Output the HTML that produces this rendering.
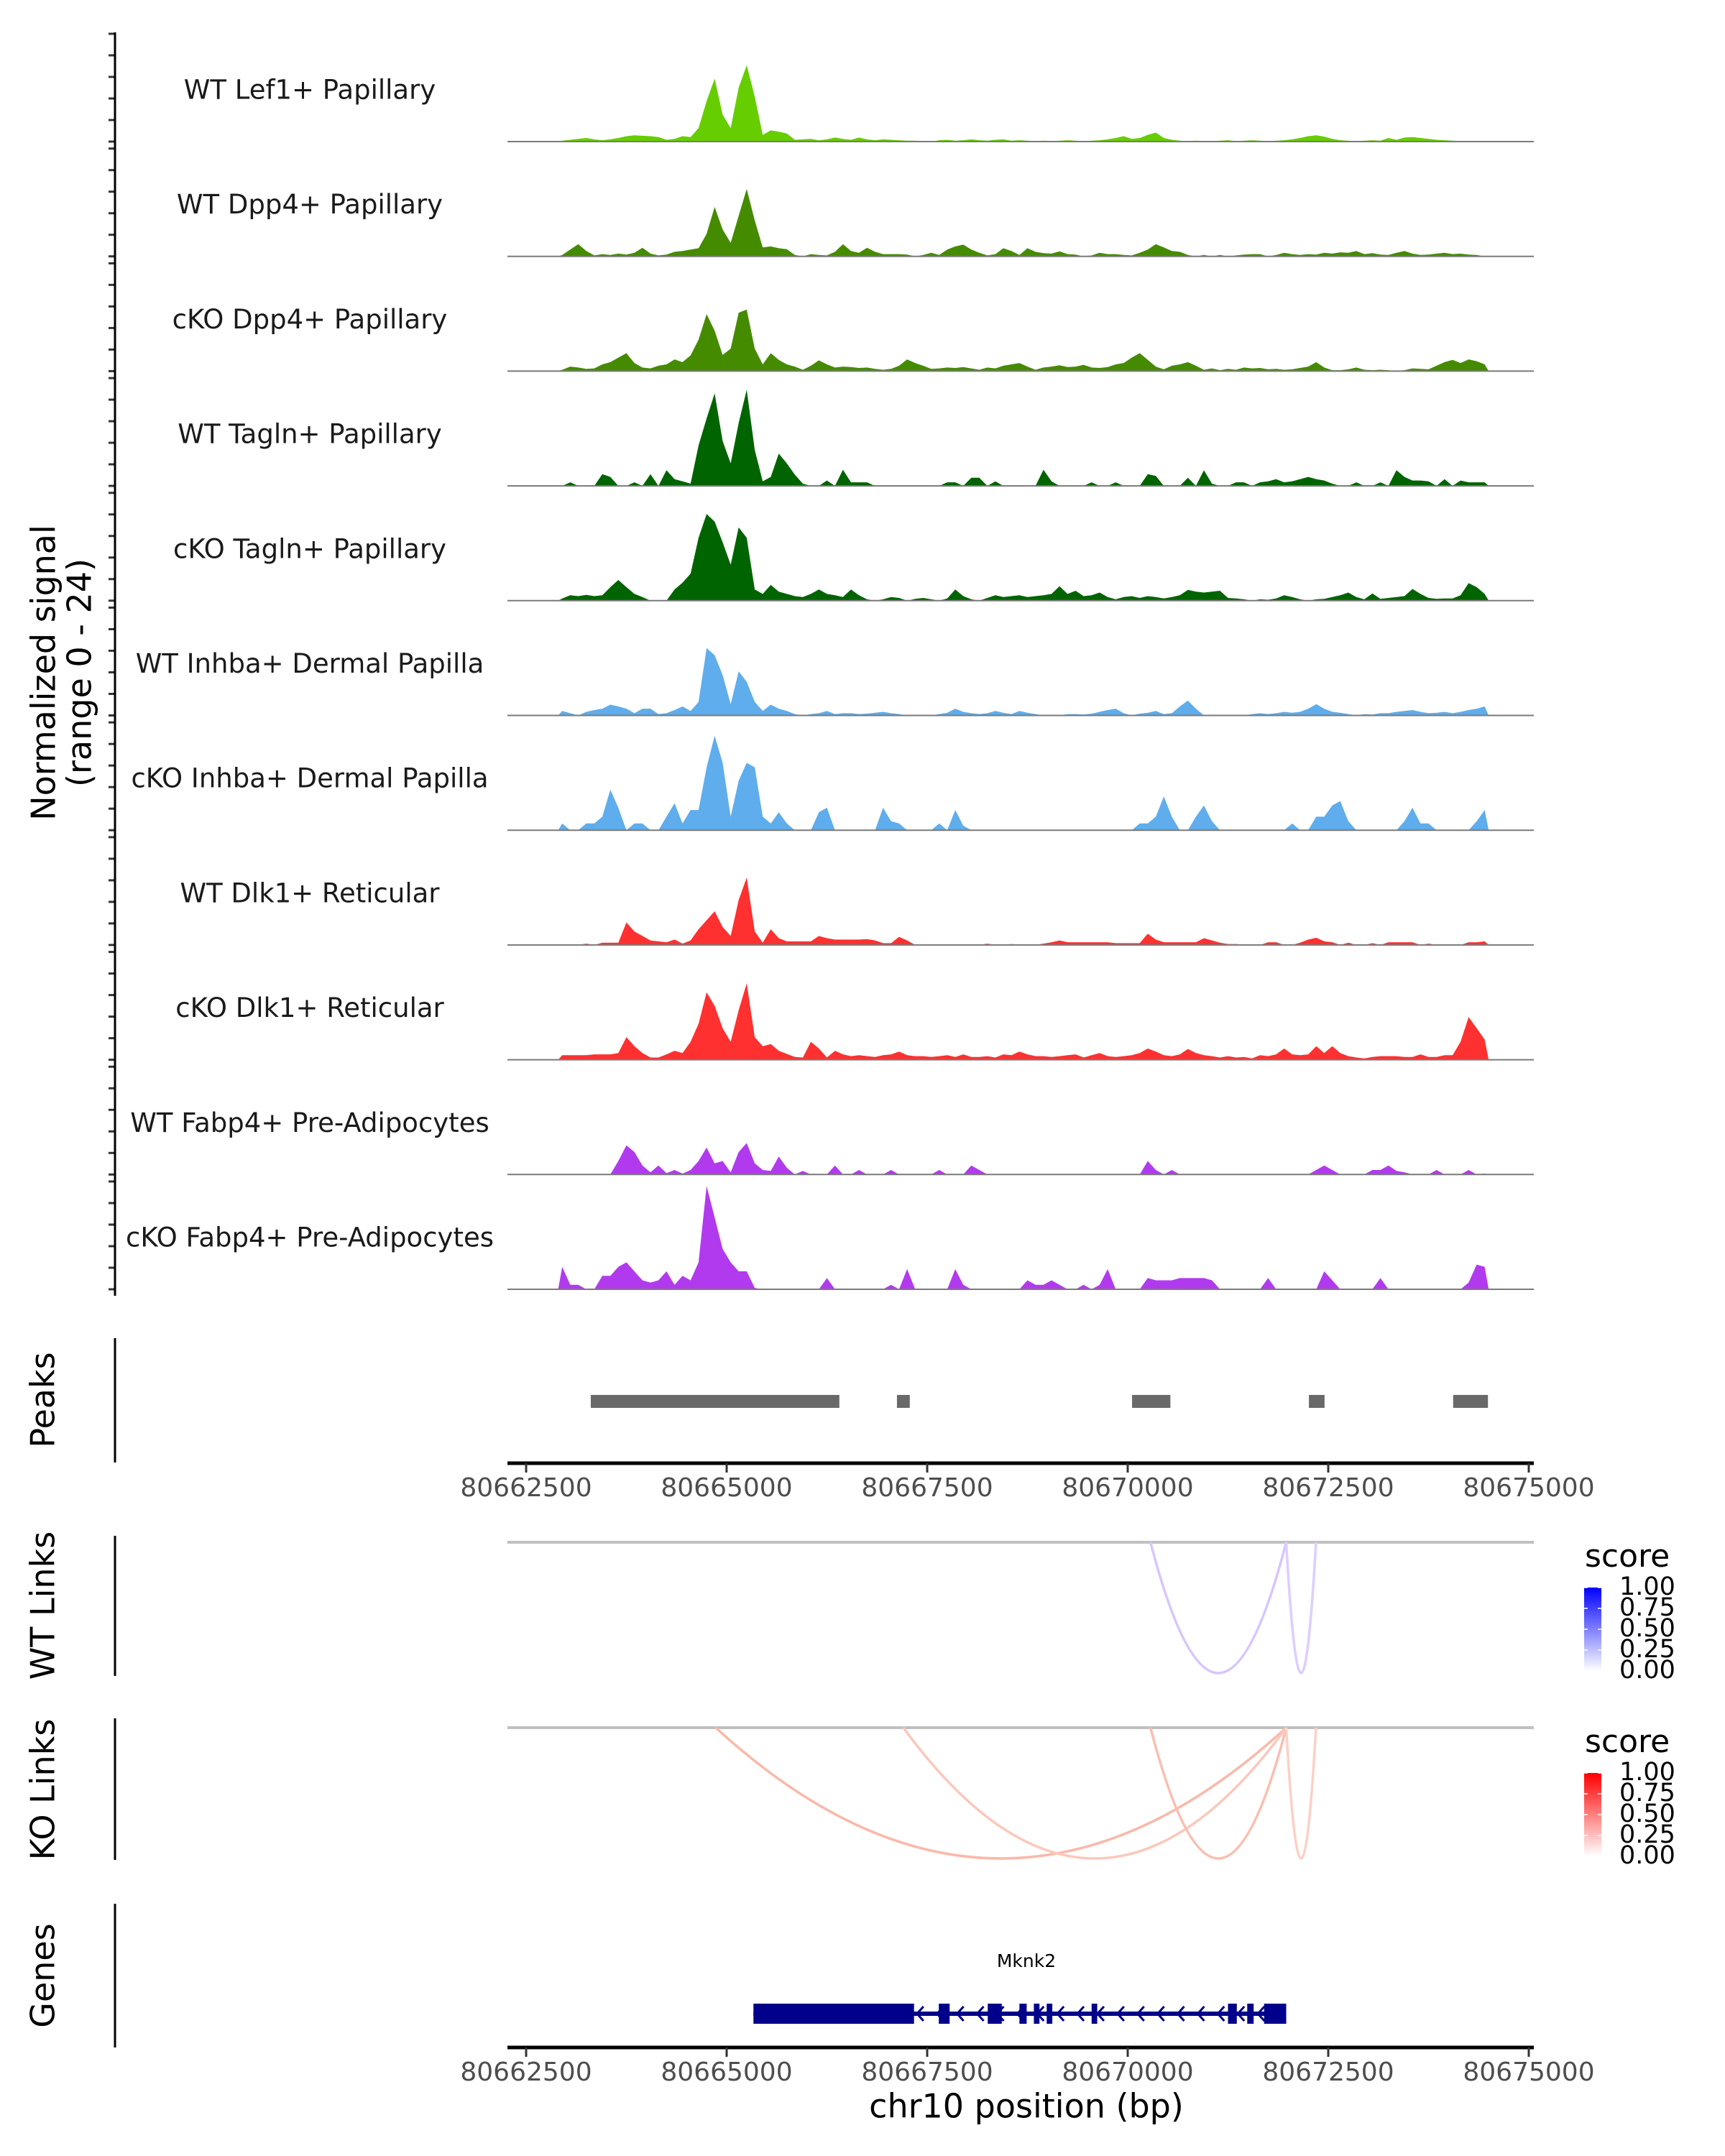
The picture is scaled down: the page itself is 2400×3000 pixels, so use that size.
<!DOCTYPE html>
<html><head><meta charset="utf-8">
<style>
html,body{margin:0;padding:0;background:#fff;}
svg{display:block;font-family:"DejaVu Sans","Liberation Sans",sans-serif;}
</style></head>
<body>
<svg id="chart" width="2400" height="3000" viewBox="0 0 2400 3000" xmlns="http://www.w3.org/2000/svg">
<defs>
<linearGradient id="gradBlue" x1="0" y1="1" x2="0" y2="0"><stop offset="0" stop-color="#ffffff"/><stop offset="1" stop-color="#0000ff"/></linearGradient>
<linearGradient id="gradRed" x1="0" y1="1" x2="0" y2="0"><stop offset="0" stop-color="#ffffff"/><stop offset="1" stop-color="#ff0000"/></linearGradient>
</defs>
<g id="tracks"></g>
<g id="peaks"></g>
<g id="links"></g>
<g id="genes"></g>
<g id="axes"></g>
</svg>
<script>
const trackLabels = ["WT Lef1+ Papillary","WT Dpp4+ Papillary","cKO Dpp4+ Papillary","WT Tagln+ Papillary","cKO Tagln+ Papillary","WT Inhba+ Dermal Papilla","cKO Inhba+ Dermal Papilla","WT Dlk1+ Reticular","cKO Dlk1+ Reticular","WT Fabp4+ Pre-Adipocytes","cKO Fabp4+ Pre-Adipocytes"];
const trackColors = ["#66cd00","#458b00","#458b00","#006400","#006400","#5fadec","#5fadec","#ff3030","#ff3030","#b23aee","#b23aee"];
const binStart = 80662900;
const binSize = 100;
const sigLef1WT = [0.2,0.4,0.6,0.8,0.5,0.3,0.5,0.8,1.2,1.4, 1.3,1.2,1.0,0.4,0.6,1.2,1.0,3,9,14, 6,3,12,17,10,1.5,2.5,2.2,1.8,0.4, 0.5,0.6,0.3,0.5,0.9,0.6,0.4,0.9,0.5,0.3, 0.5,0.4,0.3,0.2,0.2,0.1,0,0.3,0.4,0.2, 0.3,0.5,0.3,0.2,0.4,0.5,0.2,0.3,0.2,0.1, 0.2,0.1,0.2,0.3,0.2,0.1,0.2,0.3,0.5,0.8, 1.2,0.6,0.8,1.5,2.0,0.8,0.4,0.2,0.1,0.2, 0.1,0.1,0.2,0.3,0.1,0.2,0.3,0.2,0.1,0.2, 0.3,0.5,0.8,1.2,1.4,1.1,0.6,0.3,0.2,0.1, 0.2,0.3,0.2,0.8,0.4,0.9,1.0,0.8,0.6,0.4, 0.3,0.2,0.1,0.1,0,0];
const sigDpp4WT = [0.3,1.5,2.7,1.2,0.2,0.5,0.3,0.6,0.4,0.8, 1.9,0.6,0.2,0.4,1.0,1.2,1.5,1.8,5,11, 6,3,9,15,8,2,2.2,1.8,1.6,0.3, 0,0.5,0.3,0.2,1.0,2.7,1.2,0.8,1.9,1.0, 0.5,0.5,0.5,0.4,0,0.3,0.8,0.3,1.5,2.2, 2.6,1.5,0.8,0.2,0.5,1.8,1.2,0.3,1.8,1.0, 0.7,0.6,1.1,0.5,0.4,0,0.2,0.8,0.5,0.5, 0.3,0.2,0.8,1.5,2.7,2.0,1.2,1.0,0.3,0, 0.3,0,0.3,0,0.2,0.4,0.5,0.5,0,0.3, 0.8,0.5,0.3,0.5,0.4,0.8,0.6,0.9,0.8,1.2, 0.5,0.7,0.4,0.3,0.8,1.2,0.6,0.3,0.4,0.6, 0.8,0.5,0.6,0.4,0.3,0];
const sigDpp4KO = [0.3,1.0,0.8,0.5,0.6,1.5,2.0,3,4,1.8, 0.8,0.6,1.2,1.5,2.6,2.0,3.5,7,12.7,9, 3.6,5,13,13.7,5,1.5,4,2.5,1.5,1.0, 0.3,1.2,2.4,1.5,0.8,1.0,0.9,0.7,0.8,0.5, 0.3,0.5,1.2,2.6,1.8,1.2,0.5,0.6,0.8,0.7, 0.9,0.6,0.3,0.8,0.6,1.2,1.5,1.8,1.0,0.3, 0.8,1.0,1.3,0.9,1.0,1.4,0.8,0.7,0.9,1.5, 1.8,3,4,2.5,1.0,0.4,1.2,1.5,2,1.2, 0.3,0.6,0.2,0.5,0.3,0.8,0.6,0.7,0.4,0.5, 0.3,0.4,0.7,1.0,2,0.8,0.2,0.2,0.4,0.8, 0.3,0.2,0.3,0.2,0,0.2,0.6,0.5,0.4,1.2, 2.0,2.5,1.8,2.6,2.2,1.5];
const sigTaglnWT = [0,0.8,0,0,0,2.6,2.0,0,0,0.8, 0,2.6,0,3.5,1.5,1,0.5,9,15,20.6, 10,5,14,21.4,8,1,2,7.2,5,2.5, 0.5,0,0,1.2,0,3.6,0.8,0.8,0.8,0, 0,0,0,0,0,0,0,0,0.8,0.8, 0,1.8,1.8,0,1,0,0,0,0,0, 3.6,1,0,0,0,0,0.8,0,0,0.8, 0,0,0,2.6,2.2,0,0,0,1.8,0, 3.5,0.5,0,0,0.8,0.8,0,0.8,1,1.5, 0.8,1,1.5,2,1.5,1.2,0.5,0,0,0.8, 0,0,0.8,0,3.5,2,1.2,1.2,1,0, 1.5,0,1.2,0.8,0.8,0.8];
const sigTaglnKO = [0.5,1.2,1.0,1.3,1.0,1.2,3,4.6,3,1.5, 0.8,0,0,0,2.5,4,6,14,19.3,17.6, 13,8,16.3,14,2.5,1.5,3.5,2,1.5,1, 0.8,1.5,2.5,1.5,1.2,0.8,2.5,1.2,0.3,0, 0.3,0.8,0.6,0,0.4,0.6,0.3,0,0.5,2.5, 1,0.3,0,0.6,1.2,0.8,1.0,1.2,0.8,1.0, 1.2,1.5,3.2,1.5,2.2,1.0,1.2,1.8,0.8,0.3, 0.8,1.0,0.6,1.0,0.8,0.5,0.8,1.2,2.4,2.0, 1.8,2.0,2.2,0.6,0.5,0.3,0,0.3,0.2,0.5, 1.2,0.8,0.3,0,0.3,0.4,0.8,1.2,1.8,0.8, 0.3,1.6,0.4,0.6,0.8,1.0,2.6,1.5,0.6,0.4, 0.5,0.5,1.2,3.9,3.0,1.5];
const sigInhbaWT = [1,0.5,0,0.8,1.2,1.5,2.4,2,1.5,0.5, 1.5,1.5,0.3,0.5,1.2,2,1.0,3,15,13.4, 9,2.5,9.8,7.5,3,1,2.4,1.5,1,0.3, 0,0.3,0.5,1,0.3,0.5,0.5,0.3,0.4,0.6, 0.8,0.5,0.3,0,0,0,0,0.3,0.6,1.5, 0.8,0.5,0.3,0.5,1,0.6,0.3,1,0.6,0.3, 0,0,0,0.3,0.3,0.2,0.4,0.8,1.2,1.5, 0.5,0,0.4,0.6,1,0.3,0.5,2,3.3,1.5, 0,0,0,0,0,0,0.3,0.5,0.3,0.5, 0.8,0.6,0.8,1.5,2.5,1.5,0.8,0.6,0.3,0, 0.3,0.2,0.5,0.5,0.8,1.0,1.2,0.8,0.5,0.6, 0.8,0.5,0.8,1.2,1.5,2];
const sigInhbaKO = [1.5,0,0,1.5,1.5,3,9,5,0,1.5, 1.5,0,0,3,6,1.5,4.5,4.5,14,21, 15,3,11,15,14,3,1.5,4,1.5,0, 0,0,4,5,0,0,0,0,0,0, 5,2,1.5,0,0,0,0,1.5,0,4.5, 1,0,0,0,0,0,0,0,0,0, 0,0,0,0,0,0,0,0,0,0, 0,0,1.5,1.5,3,7.5,3,0,0,3, 5.5,2,0,0,0,0,0,0,0,0, 0,1.5,0,0,3,3,5.5,6.5,2,0, 0,0,0,0,0,2,5,1.5,1.5,0, 0,0,0,0,2,4.5];
const sigDlk1WT = [0,0,0,0.3,0,0.5,0.5,0.5,5,3, 2,1,0.8,0.6,1.2,0.3,1,3.5,5.5,7.5, 4,2,10,15,3,0.5,3.5,1.5,0.8,0.8, 0.8,0.8,2,1.5,1.2,1.2,1.2,1.2,1.3,1, 0.4,0.4,1.8,1,0,0,0,0,0,0, 0,0,0,0.3,0,0,0.2,0,0,0, 0.3,0.6,1,0.6,0.6,0.6,0.6,0.6,0.6,0.4, 0.4,0.4,0.4,2.5,1.2,0.6,0.6,0.6,0.6,0.6, 1.5,1,0.5,0.2,0.2,0,0,0,0.6,0.6, 0,0,0.5,1.2,1.6,0.8,0.6,0,0.5,0, 0,0.4,0,0.6,0.6,0.6,0.6,0,0.3,0, 0,0,0,0.6,0.6,0.8];
const sigDlk1KO = [1,1,1,1,1.2,1.2,1.2,1.5,5,3, 1.5,0.5,0.5,1.2,2,1.5,4,8,15,12, 7,4,11,17,5,3,3.5,2,1.3,0.6, 0.5,4,2.5,0.5,2,1.2,0.8,1,0.8,0.6, 1,1.2,1.8,1,0.8,0.8,0.6,0.8,1,0.6, 1.2,0.6,0.6,0.8,0.5,1.2,1.0,1.8,1.2,0.8, 0.8,0.6,0.8,1,1.2,0.5,1,1.5,0.8,0.6, 0.8,1,1.5,2.5,1.8,1,0.8,1.2,2.4,1.5, 1,0.8,0.5,0.8,0.5,0.6,0.3,1,0.8,1.2, 2.5,1.2,1.0,1.2,3,1.5,3,1.5,0.8,0.5, 0.3,0.6,0.8,0.8,0.8,0.6,0.6,1.2,0.6,0.6, 1,1,4,9.5,7,4.5];
const sigFabp4WT = [0,0,0,0,0,0,0,3,6.5,5, 2,0.5,2,0.3,1,0.2,1,3,6,2.5, 3,0.5,5,7,2.5,1,0.8,4,1.5,0, 0.8,0,0,0,2,0,0,1,0,0, 0,1,0,0,0,0,0,1,0,0, 0,2,1,0,0,0,0,0,0,0, 0,0,0,0,0,0,0,0,0,0, 0,0,0,3,1,0,1,0,0,0, 0,0,0,0,0,0,0,0,0,0, 0,0,0,0,1,2,1,0,0,0, 0,1,1,2,0.8,0.5,0,0,0,1, 0,0,0,1,0,0.2];
const sigFabp4KO = [5,1,1,0,0,3,3,5,6,4, 2,1.5,2,4,1,3,2,6,23,16, 9,6,4,4,0.3,0,0,0,0,0, 0,0,0,2.5,0,0,0,0,0,0, 0,1,0,4.5,0,0,0,0,0,4.5, 1,0,0,0,0,0,0,0,2,1, 1,2,1,0,0,1,0,1,4.5,0, 0,0,0,2.5,2,2,2,2.5,2.5,2.5, 2.5,2,0,0,0,0,0,0,2.5,0, 0,0,0,0,0,4,2,0,0,0, 0,0,2.5,0,0,0,0,0,0,0, 0,0,0,1.5,5.5,5];
const trackSignals = [sigLef1WT,sigDpp4WT,sigDpp4KO,sigTaglnWT,sigTaglnKO,sigInhbaWT,sigInhbaKO,sigDlk1WT,sigDlk1KO,sigFabp4WT,sigFabp4KO];
const peakStarts = [80663306,80667123,80670054,80672259,80674057];
const peakEnds = [80666405,80667283,80670532,80672454,80674491];
const wtLinkStarts = [80670284,80671976];
const wtLinkEnds = [80671976,80672347];
const wtLinkScores = [0.3,0.25];
const koLinkStarts = [80664864,80667202,80670284,80671976];
const koLinkEnds = [80671976,80671976,80671976,80672347];
const koLinkScores = [0.38,0.3,0.35,0.25];
const xTicks = [80662500,80665000,80667500,80670000,80672500,80675000];
const legendTicks = ["1.00","0.75","0.50","0.25","0.00"];
const exonStarts = [80665334,80667645,80668255,80668650,80668830,80668990,80669550,80671250,80671490,80671700];
const exonEnds = [80667336,80667780,80668430,80668740,80668900,80669060,80669620,80671360,80671570,80671976];

const NS='http://www.w3.org/2000/svg';
function mk(tag, parent, attrs){const e=document.createElementNS(NS,tag);for(const k in attrs)e.setAttribute(k,attrs[k]);parent.appendChild(e);return e;}
const X0=732, PX_PER_BP=279/2500;
const xs = bp => X0 + (bp-80662500)*PX_PER_BP;
const PANEL_L=706, PANEL_R=2134;
const BASE0=197, TSTEP=159.7, THEIGHT=150, YMAX=24;
const ys = (v,base) => base - v/YMAX*THEIGHT;

const gT=document.getElementById('tracks');
trackSignals.forEach((sig,t)=>{
  const base=BASE0+TSTEP*t;
  const g=mk('g',gT,{});
  
  
  let pts=[[xs(binStart),base]];
  sig.forEach((v,i)=>{pts.push([xs(binStart+binSize*i+binSize/2),ys(v,base)]);});
  pts.push([xs(binStart+binSize*sig.length),base]);
  const p=mk('polygon',g,{points:pts.map(p=>p[0].toFixed(1)+','+p[1].toFixed(1)).join(' '),fill:trackColors[t]});
  
  
  const bl=mk('line',g,{x1:PANEL_L,x2:PANEL_R,y1:base,y2:base,stroke:'#7a7a7a','stroke-width':2});
  
  
  const lb=mk('text',g,{x:431,y:base-70,'text-anchor':'middle','dominant-baseline':'middle','font-size':37,fill:'#1a1a1a'});
  lb.textContent=trackLabels[t];
  
  
  for(let k=0;k<=5;k++){
    const ty=base-k*30;
    const tk=mk('line',g,{x1:151,x2:160,y1:ty,y2:ty,stroke:'#333','stroke-width':3});
    
    
  }
});

const gA=document.getElementById('axes');
function vline(x,y1,y2,name){const l=mk('line',gA,{x1:x,x2:x,y1:y1,y2:y2,stroke:'#000','stroke-width':3});}
vline(160,45,1803,'signal-y-axis');
vline(160,1862,2035,'peaks-y-axis');
vline(160,2137,2332,'wt-links-y-axis');
vline(160,2391,2588,'ko-links-y-axis');
vline(160,2649,2849,'genes-y-axis');
function rtext(x,y,txt,name,size){const t=mk('text',gA,{x:x,y:y,transform:'rotate(-90 '+x+' '+y+')','text-anchor':'middle','dominant-baseline':'middle','font-size':size||46,fill:'#000'});t.textContent=txt;}
rtext(64,936,'Normalized signal','y-axis-title-line1');
rtext(114,936,'(range 0 - 24)','y-axis-title-line2');
rtext(63,1948,'Peaks','peaks-axis-title');
rtext(63,2234,'WT Links','wt-links-axis-title');
rtext(63,2490,'KO Links','ko-links-axis-title');
rtext(63,2749,'Genes','genes-axis-title');

function xAxis(y,name){
  const g=mk('g',gA,{});
  
  
  mk('line',g,{x1:PANEL_L,x2:PANEL_R,y1:y,y2:y,stroke:'#000','stroke-width':5});
  xTicks.forEach(v=>{
    const tk=mk('line',g,{x1:xs(v),x2:xs(v),y1:y,y2:y+13,stroke:'#333','stroke-width':3});
    
    
    const t=mk('text',g,{x:xs(v),y:y+36,'text-anchor':'middle','dominant-baseline':'middle','font-size':36,fill:'#4d4d4d'});
    t.textContent=String(v);
    
    
  });
}
xAxis(2036,'peaks-x-axis');
xAxis(2849,'genes-x-axis');
const xt=mk('text',gA,{x:1428,y:2934,'text-anchor':'middle','dominant-baseline':'middle','font-size':46,fill:'#000'});
xt.textContent='chr10 position (bp)';



const gP=document.getElementById('peaks');
peakStarts.forEach((s,i)=>{
  const r=mk('rect',gP,{x:xs(s),y:1941,width:xs(peakEnds[i])-xs(s),height:18,fill:'#696969'});
  
  
});

const gL=document.getElementById('links');
function linkPanel(lineY,starts,ends,scores,rgb,gradId,legY,name){
  const g=mk('g',gL,{});
  
  
  const base=mk('line',g,{x1:PANEL_L,x2:PANEL_R,y1:lineY,y2:lineY,stroke:'#c0c0c0','stroke-width':4});
  
  
  const depth=182;
  starts.forEach((s,i)=>{
    const x1=xs(s),x2=xs(ends[i]);
    const a=scores[i];
    const c='rgb('+rgb.map(v=>Math.round(255-(255-v)*a)).join(',')+')';
    const p=mk('path',g,{d:'M'+x1+','+lineY+' Q'+((x1+x2)/2)+','+(lineY+2*depth)+' '+x2+','+lineY,fill:'none',stroke:c,'stroke-width':3.5});
    
    
  });
  const tt=mk('text',g,{x:2205,y:legY,'dominant-baseline':'middle','font-size':44,fill:'#000'});
  tt.textContent='score';
  
  
  const top=legY+41, h=116;
  const cb=mk('rect',g,{x:2204,y:top,width:24,height:h,fill:'url(#'+gradId+')'});
  
  
  legendTicks.forEach((lab,i)=>{
    const ty=top+h*i/4;
    const t=mk('text',g,{x:2253,y:ty,'dominant-baseline':'middle','font-size':35,fill:'#000'});
    t.textContent=lab;
    
    
    mk('line',g,{x1:2204,x2:2209,y1:ty,y2:ty,stroke:'#fff','stroke-width':1.5});
    mk('line',g,{x1:2223,x2:2228,y1:ty,y2:ty,stroke:'#fff','stroke-width':1.5});
  });
}
linkPanel(2146,wtLinkStarts,wtLinkEnds,wtLinkScores,[120,60,255],'gradBlue',2168,'wt-links');
linkPanel(2404,koLinkStarts,koLinkEnds,koLinkScores,[240,70,30],'gradRed',2426,'ko-links');

const gG=document.getElementById('genes');
const gl=mk('text',gG,{x:1428,y:2730,'text-anchor':'middle','dominant-baseline':'middle','font-size':25,fill:'#000'});
gl.textContent='Mknk2';


const intron=mk('rect',gG,{x:xs(exonStarts[0]),y:2799,width:xs(exonEnds[exonEnds.length-1])-xs(exonStarts[0]),height:6,fill:'#00008b'});


exonStarts.forEach((s,i)=>{
  const r=mk('rect',gG,{x:xs(s),y:2788,width:Math.max(4,xs(exonEnds[i])-xs(s)),height:28,fill:'#00008b'});
  
  
});
for(let bp=80667400;bp<80671900;bp+=250){
  const x=xs(bp);
  const a=mk('path',gG,{d:'M'+(x+6)+',2792 L'+(x-3)+',2802 L'+(x+6)+',2812',fill:'none',stroke:'#00008b','stroke-width':3});
  
  
}
</script>
</body></html>
